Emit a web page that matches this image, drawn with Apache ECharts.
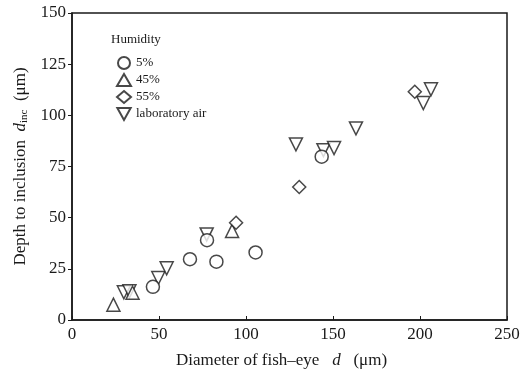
<!DOCTYPE html>
<html>
<head>
<meta charset="utf-8">
<script src="https://cdn.jsdelivr.net/npm/echarts@6/dist/echarts.min.js"></script>
<style>
    html, body { margin: 0; padding: 0; background: #fff; }
    #main { width: 527px; height: 379px; }
</style>
</head>
<body>
<div id="main"></div>
<script>
    // 数据：[直径 d, 夹杂深度 d_inc]
    var h5 = [[46.5, 16.2], [67.8, 29.7], [83, 28.5], [105.5, 33], [77.6, 39], [143.5, 79.8]];
    var h45 = [[23.8, 7.5], [34.8, 13.3], [92, 43.5]];
    var h55 = [[94.3, 47.5], [130.6, 65], [197, 111.5]];
    var labAir = [[29.8, 13.5], [33, 14], [49.6, 20.5], [54.4, 25.3], [77.4, 41.8], [128.7, 85.8],
        [144.5, 83], [150.6, 84], [163.2, 93.6], [201.9, 106], [206.3, 112.7]];

    var xTicks = [0, 50, 100, 150, 200, 250];
    var yTicks = [0, 25, 50, 75, 100, 125, 150];

    var font = "'Liberation Serif', 'DejaVu Serif', serif";
    var ink = "#1a1a1a";
    // 倒三角
    var downTri = "path://M0,0L20,0L10,18Z";

    // 空心符号的系列
    function mk(name, data, symbol, size) {
        return {
            name: name,
            type: "scatter",
            data: data,
            symbol: symbol,
            symbolSize: size,
            itemStyle: { color: "#fff", borderColor: ink, borderWidth: 1.5 }
        };
    }

    var myChart = echarts.init(document.getElementById("main"));
    var option = {
        animation: false,
        backgroundColor: "#fff",
        textStyle: { fontFamily: font, color: ink },
        grid: {
            left: 72, right: 20, top: 13, bottom: 59,
            show: true, borderColor: ink, borderWidth: 1.5
        },
        graphic: [{
            type: "text", left: 111, top: 33,
            style: { text: "Humidity", font: "13px " + font, fill: ink }
        }],
        legend: {
            orient: "vertical",
            left: 111, top: 51,
            itemWidth: 14, itemHeight: 12, itemGap: 3,
            textStyle: { fontFamily: font, fontSize: 13, color: ink },
            data: ["5%", "45%", "55%", "laboratory air"]
        },
        xAxis: {
            type: "value",
            min: 0, max: 250, interval: 50,
            name: "Diameter of fish\u2013eye   {i|d}   (\u03bcm)",
            nameLocation: "middle",
            nameGap: 32,
            nameTextStyle: {
                fontFamily: font, fontSize: 17, color: ink,
                padding: [0, 16, 0, 0],
                rich: { i: { fontStyle: "italic", fontFamily: font, fontSize: 17 } }
            },
            axisLine: { lineStyle: { color: ink, width: 1.5 } },
            axisTick: { inside: true, length: 4, lineStyle: { color: ink } },
            axisLabel: {
                fontFamily: font, fontSize: 17, color: ink, margin: 6,
                formatter: function(v) { return xTicks.indexOf(v) >= 0 ? String(v) : ""; }
            },
            splitLine: { show: false }
        },
        yAxis: {
            type: "value",
            min: 0, max: 150, interval: 25,
            name: "Depth to inclusion  {i|d}{sub|inc}  (\u03bcm)",
            nameLocation: "middle",
            nameGap: 42,
            nameTextStyle: {
                fontFamily: font, fontSize: 17, color: ink,
                rich: {
                    i: { fontStyle: "italic", fontFamily: font, fontSize: 17 },
                    sub: { fontFamily: font, fontSize: 11, verticalAlign: "bottom", padding: [8, 0, 0, 0] }
                }
            },
            axisLine: { lineStyle: { color: ink, width: 1.5 } },
            axisTick: { length: 4, lineStyle: { color: ink } },
            axisLabel: {
                fontFamily: font, fontSize: 17, color: ink, margin: 6,
                formatter: function(v) { return yTicks.indexOf(v) >= 0 ? String(v) : ""; }
            },
            splitLine: { show: false }
        },
        // 先画 laboratory air，圆圈压在上面
        series: [
            mk("laboratory air", labAir, downTri, 13),
            mk("5%", h5, "circle", 13),
            mk("45%", h45, "triangle", 13),
            mk("55%", h55, "diamond", 13)
        ]
    };
    myChart.setOption(option);
</script>
</body>
</html>
